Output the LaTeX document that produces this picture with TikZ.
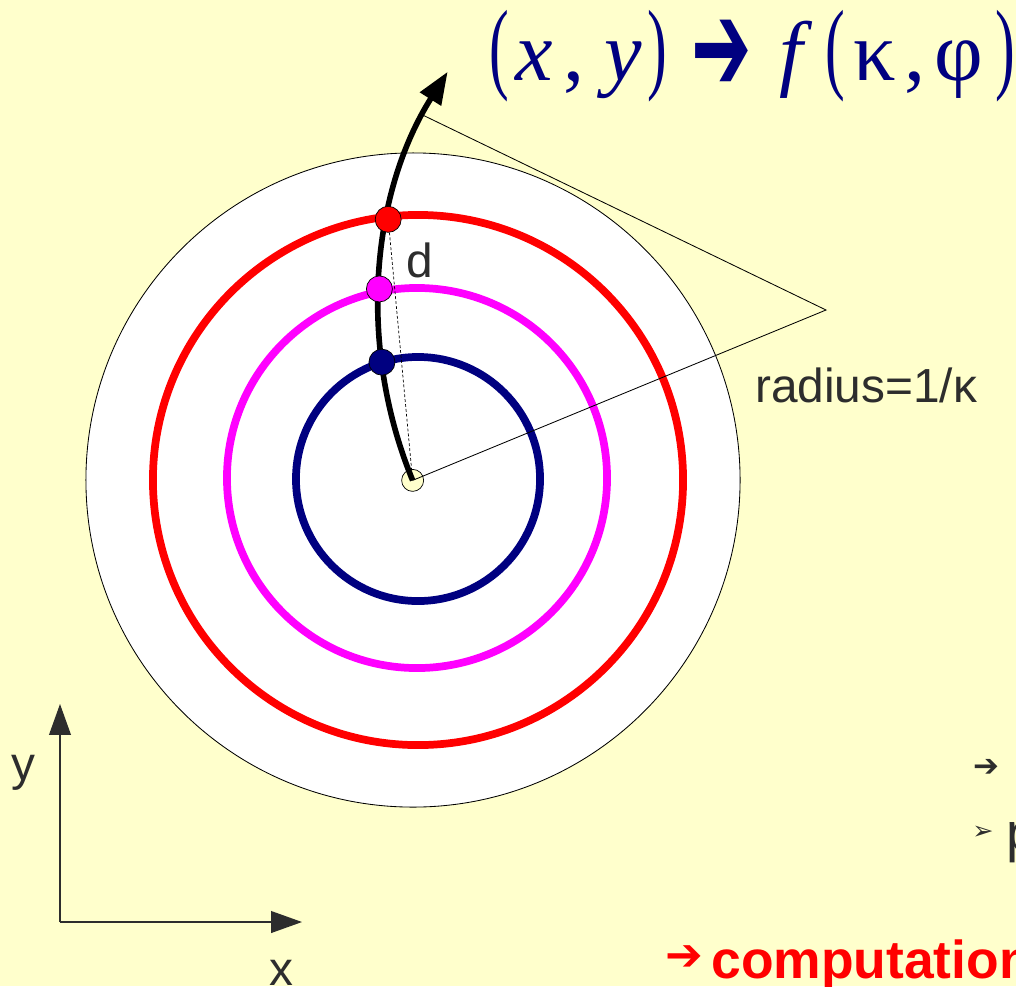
\documentclass[tikz,border=0pt]{standalone}
\usepackage{fontspec}
\usepackage{graphicx}
\setmainfont{Liberation Sans}
\newfontfamily\serif{Liberation Serif}
\newfontfamily\dejavu{DejaVu Sans}
\usetikzlibrary{arrows.meta,calc,positioning}
\definecolor{paper}{RGB}{255,255,204}
\definecolor{ink}{RGB}{45,45,45}
\definecolor{navy}{RGB}{0,0,128}
\definecolor{mag}{RGB}{255,0,255}
\newcommand\Lpar{\scalebox{0.7}[1.2]{(}}
\newcommand\Rpar{\scalebox{0.7}[1.2]{)}}
\tikzset{
	x=0.025cm, y=-0.025cm, semithick,
	ring/.style ={draw, line width=5.5pt},
	point/.style = {circle, draw=black, line width=0.5pt, inner sep=0pt, minimum size=0.65cm, node contents={}},
	lbl/.style = {inner sep=0pt, text=ink, font=\fontsize{34}{34}\selectfont},
	fml/.style = {anchor=base, inner sep=0pt, text=navy, font=\serif\fontsize{60}{60}\selectfont},
	axis/.style = {draw=ink, line width=1pt, -{Triangle[length=22pt,width=15.5pt]}},
	track/.style = {line width=4pt, -{Triangle[length=23pt,width=17pt]}}
}
\begin{document}
\begin{tikzpicture}

    \clip (0,0) rectangle (1016,986);
    \fill[paper] (0,0) rectangle (1016,986);

    \draw[fill=white, line width=0.6pt] (413,480) circle [radius=8.175cm];
    \draw[ring, red] (418,480) circle [radius=6.625cm];
    \draw[ring, mag] (417,478) circle [radius=4.75cm];
    \draw[ring, navy] (418,479) circle [radius=3.05cm];

    \coordinate (4) at (826,310);
    \coordinate (5) at ($(4)+(154.2:11.175cm)$);
    \node (0) at ($(4)+(202.4:11.175cm)$) [point, fill=paper, minimum size=0.55cm];

    \draw[track] (0.center) arc [start angle=202.4, end angle=147.8, radius=11.175cm];
    \draw[line width=0.6pt] (0.center) -- (4) -- (5);

    \node (1) at ($(4)+(186.7:11.175cm)$) [point, fill=navy];
    \node (2) at ($(4)+(177.3:11.175cm)$) [point, fill=mag];
    \node (3) at ($(4)+(168.3:11.175cm)$) [point, fill=red];
    \draw[line width=0.5pt, dash pattern=on 2pt off 1.5pt] (0.center) -- (3);

    \node[lbl, anchor=base] (d) at (420,277) {d};
    \node[lbl, anchor=base west] (r) at (755,402) {radius=1/κ};

    \coordinate (6) at (60,922);
    \coordinate (7) at (60,704);
    \coordinate (8) at (302,922);
    \draw[axis] (6) -- (7);
    \draw[axis] (6) -- (8);
    \node[lbl, anchor=base] (y) at (23,780) {y};
    \node[lbl, anchor=base] (x) at (281,985) {x};

    \node[fml] (f1) at (499.5,80) {\Lpar};
    \node[fml] (f2) at (534.5,80) {\textit{x}};
    \node[fml] (f3) at (574,80) {,};
    \node[fml] (f4) at (623,80) {\textit{y}};
    \node[fml] (f5) at (657.5,80) {\Rpar};
    \node[fml, anchor=center, font=\dejavu\fontsize{40}{40}\selectfont] (f6) at (722,56) {\scalebox{1.28}[2.3]{➔}};
    \node[fml] (f7) at (796,80) {\textit{f}};
    \node[fml] (f8) at (835,80) {\Lpar};
    \node[fml] (f9) at (875,80) {κ};
    \node[fml] (f10) at (915,80) {,};
    \node[fml] (f11) at (958.5,80) {φ};
    \node[fml] (f12) at (1005,80) {\Rpar};

    \node[inner sep=0pt, text=ink, font=\dejavu\fontsize{22}{22}\selectfont] (9) at (986,768) {➔};
    \node[inner sep=0pt, text=ink, font=\dejavu\fontsize{18}{18}\selectfont] (10) at (983,833) {➢};
    \node[lbl, anchor=base west, font=\fontsize{39}{39}\selectfont] (11) at (1006,851) {p};
    \node[inner sep=0pt, text=red, font=\dejavu\fontsize{32}{32}\selectfont] (12) at (684,958) {➔};
    \node[anchor=base west, inner sep=0pt, text=red, font=\bfseries\fontsize{38}{38}\selectfont] (13) at (711,978) {computation};

\end{tikzpicture}
\end{document}
